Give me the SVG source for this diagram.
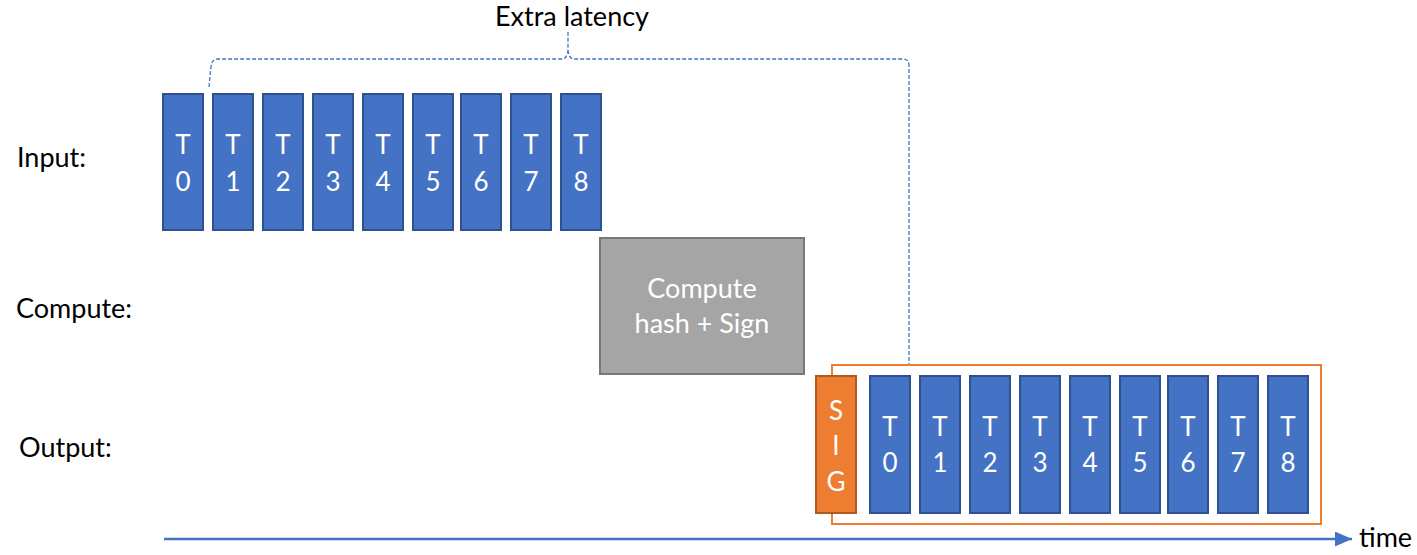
<svg xmlns="http://www.w3.org/2000/svg" width="1417" height="555" viewBox="0 0 1417 555">
<defs>
<style>
.lbl{font-family:Lato,"Open Sans","Liberation Sans",sans-serif;font-size:27px;fill:#000}
.tb{fill:#4472C4;stroke:#2F528F;stroke-width:2}
.tt{font-family:Lato,"Open Sans","Liberation Sans",sans-serif;font-size:26px;fill:#fff;text-anchor:middle}
.ct{font-family:Lato,"Open Sans","Liberation Sans",sans-serif;font-size:27px;fill:#fff;text-anchor:middle}
.dash{fill:none;stroke:#4472C4;stroke-width:1.3;stroke-dasharray:4 2}
</style>
<marker id="arr" viewBox="0 0 17 15" refX="17" refY="7.5" markerWidth="17" markerHeight="15" markerUnits="userSpaceOnUse" orient="auto">
<path d="M0,0 L17,7.5 L0,15 Z" fill="#4472C4"/>
</marker>
</defs>
<rect width="1417" height="555" fill="#fff"/>
<g id="labels">
<text class="lbl" x="17" y="167">Input:</text>
<text class="lbl" x="16" y="318">Compute:</text>
<text class="lbl" x="19" y="457">Output:</text>
<text class="lbl" x="572" y="26" text-anchor="middle">Extra latency</text>
<text class="lbl" x="1359" y="547">time</text>
</g>
<g id="input">
<g id="in-t0"><rect class="tb" x="163" y="94" width="40" height="136"/><text class="tt" x="183" y="154">T</text><text class="tt" x="183" y="191">0</text></g>
<g id="in-t1"><rect class="tb" x="213" y="94" width="40" height="136"/><text class="tt" x="233" y="154">T</text><text class="tt" x="233" y="191">1</text></g>
<g id="in-t2"><rect class="tb" x="263" y="94" width="40" height="136"/><text class="tt" x="283" y="154">T</text><text class="tt" x="283" y="191">2</text></g>
<g id="in-t3"><rect class="tb" x="313" y="94" width="40" height="136"/><text class="tt" x="333" y="154">T</text><text class="tt" x="333" y="191">3</text></g>
<g id="in-t4"><rect class="tb" x="363" y="94" width="40" height="136"/><text class="tt" x="383" y="154">T</text><text class="tt" x="383" y="191">4</text></g>
<g id="in-t5"><rect class="tb" x="413" y="94" width="40" height="136"/><text class="tt" x="433" y="154">T</text><text class="tt" x="433" y="191">5</text></g>
<g id="in-t6"><rect class="tb" x="461" y="94" width="40" height="136"/><text class="tt" x="481" y="154">T</text><text class="tt" x="481" y="191">6</text></g>
<g id="in-t7"><rect class="tb" x="511" y="94" width="40" height="136"/><text class="tt" x="531" y="154">T</text><text class="tt" x="531" y="191">7</text></g>
<g id="in-t8"><rect class="tb" x="561" y="94" width="40" height="136"/><text class="tt" x="581" y="154">T</text><text class="tt" x="581" y="191">8</text></g>
</g>
<g id="compute">
<rect x="600" y="238" width="204" height="136" fill="#A5A5A5" stroke="#787878" stroke-width="2"/>
<text class="ct" x="702" y="298">Compute</text>
<text class="ct" x="702" y="333">hash + Sign</text>
</g>
<g id="output-frame">
<rect x="832" y="365" width="489" height="159" fill="none" stroke="#ED7D31" stroke-width="2"/>
</g>
<g id="sig">
<rect x="816" y="376" width="40" height="137" fill="#ED7D31" stroke="#AE5A21" stroke-width="2"/>
<text class="tt" x="836" y="420">S</text>
<text class="tt" x="836" y="455">I</text>
<text class="tt" x="836" y="491">G</text>
</g>
<g id="output">
<g id="out-t0"><rect class="tb" x="870" y="376" width="40" height="137"/><text class="tt" x="890" y="436">T</text><text class="tt" x="890" y="472">0</text></g>
<g id="out-t1"><rect class="tb" x="920" y="376" width="40" height="137"/><text class="tt" x="940" y="436">T</text><text class="tt" x="940" y="472">1</text></g>
<g id="out-t2"><rect class="tb" x="970" y="376" width="40" height="137"/><text class="tt" x="990" y="436">T</text><text class="tt" x="990" y="472">2</text></g>
<g id="out-t3"><rect class="tb" x="1020" y="376" width="40" height="137"/><text class="tt" x="1040" y="436">T</text><text class="tt" x="1040" y="472">3</text></g>
<g id="out-t4"><rect class="tb" x="1070" y="376" width="40" height="137"/><text class="tt" x="1090" y="436">T</text><text class="tt" x="1090" y="472">4</text></g>
<g id="out-t5"><rect class="tb" x="1120" y="376" width="40" height="137"/><text class="tt" x="1140" y="436">T</text><text class="tt" x="1140" y="472">5</text></g>
<g id="out-t6"><rect class="tb" x="1168" y="376" width="40" height="137"/><text class="tt" x="1188" y="436">T</text><text class="tt" x="1188" y="472">6</text></g>
<g id="out-t7"><rect class="tb" x="1218" y="376" width="40" height="137"/><text class="tt" x="1238" y="436">T</text><text class="tt" x="1238" y="472">7</text></g>
<g id="out-t8"><rect class="tb" x="1268" y="376" width="40" height="137"/><text class="tt" x="1288" y="436">T</text><text class="tt" x="1288" y="472">8</text></g>
</g>
<g id="connectors">
<path class="dash" d="M209,87 L211,66 Q212,59 218,59 L562,59 Q567,59 568,50 L568,32 M568,50 Q569,59 574,59 L903,59 Q909,59 909,66 L909,364"/>
<line x1="164" y1="539" x2="1352" y2="539" stroke="#4472C4" stroke-width="2.5" marker-end="url(#arr)"/>
</g>
</svg>
